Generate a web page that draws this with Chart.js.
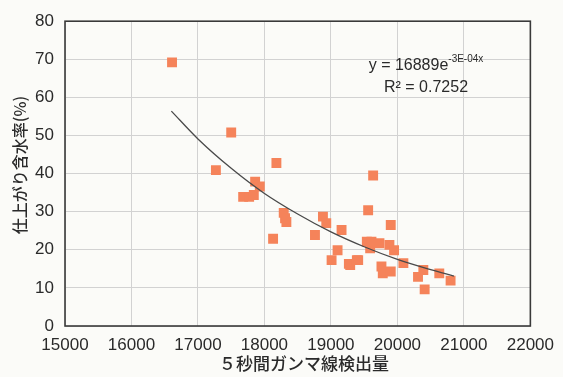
<!DOCTYPE html>
<html><head><meta charset="utf-8">
<script src="https://cdn.jsdelivr.net/npm/chart.js@4/dist/chart.umd.min.js"></script>
<style>html,body{margin:0;padding:0;background:#fbfbf8;}#wrap{width:563px;height:377px;}</style>
</head><body><div id="wrap"><canvas id="c" width="563" height="377"></canvas></div>
<script>
const gammaCounts = [16610,17270,17500,17680,17770,17840,17860,17930,18130,18180,18290,18310,18330,18760,18880,18930,19010,19100,19160,19270,19290,19390,19410,19540,19560,19590,19610,19635,19730,19760,19780,19880,19900,19900,19950,20090,20310,20390,20410,20630,20800];
const moisture    = [69.2,40.9,50.8,33.9,33.9,34.4,37.9,36.6,22.9,42.8,29.7,28.3,27.3,23.9,28.7,27.0,17.3,19.9,25.2,16.3,16.0,17.3,17.3,22.1,30.4,20.4,22.1,39.5,21.7,15.6,13.8,21.3,26.5,14.3,19.9,16.5,12.9,14.7,9.6,13.8,11.9];
const trendX = [16600,17000,17500,18000,18500,19000,19500,20000,20500,20850];
const trendY = [56.4,49.1,41.4,34.8,29.4,24.7,20.8,17.5,14.8,13.1];
const xTicks = [15000,16000,17000,18000,19000,20000,21000,22000];
const yTicks = [0,10,20,30,40,50,60,70,80];
const xTitle = '５秒間ガンマ線検出量';
const yTitle = '仕上がり含水率(%)';
const eqLine1 = 'y = 16889e';
const eqExp = '-3E-04x';
const eqLine2 = 'R² = 0.7252';

const pts = gammaCounts.map((x,i)=>({x:x,y:moisture[i]}));
const trend = trendX.map((x,i)=>({x:x,y:trendY[i]}));

const overlay = {
  id:'overlay',
  afterDraw(chart){
    const ctx = chart.ctx, ca = chart.chartArea;
    ctx.save();
    ctx.strokeStyle = '#3a3a3a'; ctx.lineWidth = 1.6;
    ctx.strokeRect(ca.left, ca.top, ca.right-ca.left, ca.bottom-ca.top);
    ctx.fillStyle = '#2a2a2a';
    ctx.textAlign = 'center'; ctx.textBaseline = 'middle';
    ctx.font = '500 17px "Noto Sans CJK JP"';
    ctx.fillText(xTitle, 304, 364);
    ctx.save();
    ctx.translate(20, 165); ctx.rotate(-Math.PI/2);
    ctx.font = '500 16px "Noto Sans CJK JP"';
    ctx.fillText(yTitle, 0, 0);
    ctx.restore();
    // equation
    ctx.font = '16px "Liberation Sans"';
    ctx.textAlign = 'left';
    const w1 = ctx.measureText(eqLine1).width;
    ctx.font = '10px "Liberation Sans"';
    const w2 = ctx.measureText(eqExp).width;
    const sx = 426 - (w1+w2)/2;
    ctx.font = '16px "Liberation Sans"';
    ctx.fillText(eqLine1, sx, 66);
    ctx.font = '10px "Liberation Sans"';
    ctx.fillText(eqExp, sx+w1, 59);
    ctx.font = '16px "Liberation Sans"';
    ctx.textAlign = 'center';
    ctx.fillText(eqLine2, 426, 88);
    ctx.restore();
  }
};

new Chart(document.getElementById('c'), {
  type:'scatter',
  data:{datasets:[
    {data:trend, type:'line', showLine:true, borderColor:'#4a4a4a', borderWidth:1.3, pointRadius:0, cubicInterpolationMode:'monotone', fill:false, order:0},
    {data:pts, backgroundColor:'#f5835a', borderWidth:0, pointStyle:'rect', pointRadius:7, pointHoverRadius:7, order:1}
  ]},
  options:{
    responsive:false, animation:false,
    layout:{padding:{left:0,right:20,top:20,bottom:0}},
    plugins:{legend:{display:false}, tooltip:{enabled:false}},
    scales:{
      x:{type:'linear', min:15000, max:22000,
        afterBuildTicks(s){ s.ticks = xTicks.map(v=>({value:v})); },
        afterFit(s){ s.height = 51; },
        grid:{color:'#d2d2d2', lineWidth:1, drawTicks:false},
        border:{display:false},
        ticks:{color:'#2a2a2a', font:{family:'"Liberation Sans Narrow", "Liberation Sans"', size:17}, padding:9, maxRotation:0, autoSkip:false, callback:v=>String(v)}
      },
      y:{type:'linear', min:0, max:80,
        afterBuildTicks(s){ s.ticks = yTicks.map(v=>({value:v})); },
        afterFit(s){ s.width = 65; },
        grid:{color:'#d2d2d2', lineWidth:1, drawTicks:false},
        border:{display:false},
        ticks:{color:'#2a2a2a', font:{family:'"Liberation Sans Narrow", "Liberation Sans"', size:17}, padding:11, callback:v=>String(v)}
      }
    }
  },
  plugins:[overlay]
});
</script></body></html>
